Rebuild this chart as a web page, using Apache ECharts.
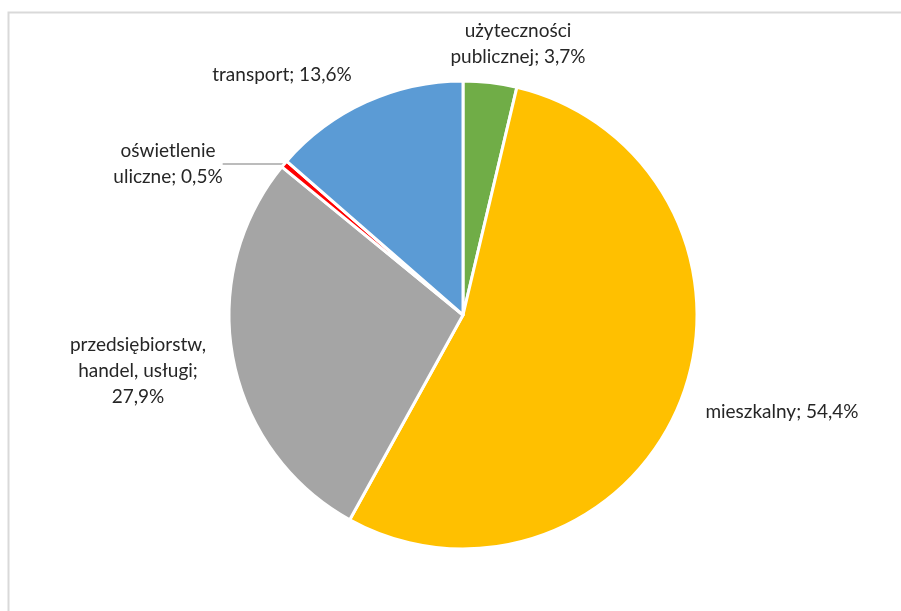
<!DOCTYPE html>
<html>
<head>
<meta charset="utf-8">
<script src="https://cdn.jsdelivr.net/npm/echarts@6/dist/echarts.min.js"></script>
<style>
html,body{margin:0;padding:0;background:#fff;}
#chart{width:901px;height:611px;}
</style>
</head>
<body>
<div id="chart"></div>
<script>
const categories = ['użyteczności publicznej', 'mieszkalny', 'przedsiębiorstw, handel, usługi', 'oświetlenie uliczne', 'transport'];
const labelNames = ['użyteczności\npublicznej; 3,7%', 'mieszkalny; 54,4%', 'przedsiębiorstw,\nhandel, usługi;\n27,9%', 'oświetlenie\nuliczne; 0,5%', 'transport; 13,6%'];
const values = [3.7, 54.4, 27.9, 0.5, 13.6];
const colors = ['#70AD47', '#FFC000', '#A5A5A5', '#FF0000', '#5B9BD5'];
// label anchor positions (layout only)
const labelPos = [[518, 44], [782, 412], [138, 371], [168, 164], [282, 75]];

const chart = echarts.init(document.getElementById('chart'));
const data = categories.map((c, i) => ({
  name: c,
  value: values[i],
  itemStyle: { color: colors[i] },
  label: { formatter: labelNames[i] },
  labelLine: { show: i === 3 }
}));
chart.setOption({
  animation: false,
  graphic: [{
    type: 'rect',
    shape: { x: 8.5, y: 12.5, width: 900, height: 610 },
    style: { fill: 'none', stroke: '#d9d9d9', lineWidth: 2 },
    silent: true
  }],
  series: [{
    type: 'pie',
    center: [463, 315],
    radius: 234,
    startAngle: 90,
    clockwise: true,
    data: data,
    itemStyle: { borderColor: '#fff', borderWidth: 3 },
    label: {
      show: true,
      position: 'outside',
      color: '#262626',
      fontFamily: 'Lato',
      fontSize: 19,
      lineHeight: 26,
      align: 'center'
    },
    labelLine: {
      length: 10,
      length2: 10,
      lineStyle: { color: '#a6a6a6', width: 1.5 }
    },
    labelLayout: function (p) {
      const pos = labelPos[p.dataIndex];
      return { x: pos[0], y: pos[1], align: 'center', verticalAlign: 'middle' };
    }
  }]
});
</script>
</body>
</html>
